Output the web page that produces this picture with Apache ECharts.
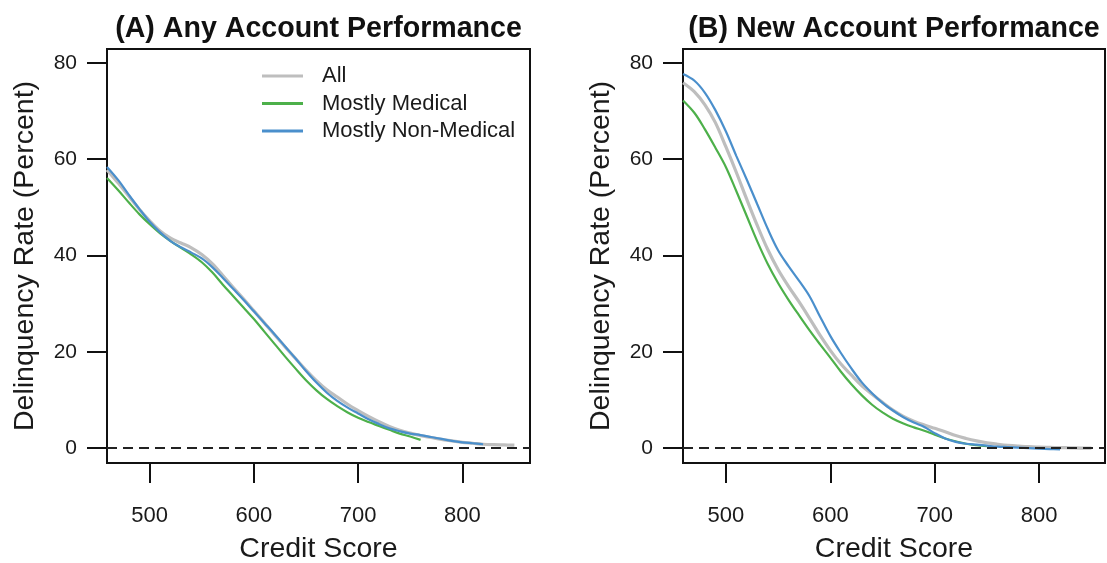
<!DOCTYPE html>
<html>
<head>
<meta charset="utf-8">
<script src="https://cdn.jsdelivr.net/npm/echarts@6/dist/echarts.min.js"></script>
<style>
html,body{margin:0;padding:0;background:#fff;}
#chart{width:1107px;height:563px;}
</style>
</head>
<body>
<div id="chart"></div>
<script>
// ---- data ----
const panelTitles = ['(A) Any Account Performance', '(B) New Account Performance'];
const seriesNames = ['All', 'Mostly Medical', 'Mostly Non-Medical'];
const xTicks = [500, 600, 700, 800];
const yTicks = [0, 20, 40, 60, 80];

const scores = [459,470,480,490,500,510,520,530,540,550,560,570,580,590,600,610,620,630,640,650,
                660,670,680,690,700,710,720,730,740,750,760,770,780,790,800,810,820,830,840,850];

// Panel A: any account performance
const allA = [57.8,55.0,52.3,49.6,47.2,45.1,43.6,42.6,41.6,40.2,38.3,35.9,33.4,31.0,28.5,26.0,23.5,21.0,18.6,16.2,
              14.0,12.1,10.6,9.1,7.8,6.6,5.5,4.5,3.7,3.1,2.6,2.2,1.8,1.5,1.2,1.0,0.8,0.7,0.65,0.6];
const medicalA = [56.1,53.5,51.0,48.6,46.5,44.6,43.0,41.6,40.2,38.6,36.5,34.0,31.6,29.2,26.8,24.2,21.6,19.0,16.5,14.1,
                  12.0,10.2,8.7,7.4,6.3,5.4,4.6,3.8,3.0,2.4,1.7];
const nonMedicalA = [58.4,55.6,52.6,49.7,47.0,44.8,43.0,41.7,40.6,39.4,37.6,35.4,33.1,30.8,28.4,26.0,23.6,21.1,18.6,16.0,
                     13.6,11.5,9.8,8.4,7.2,6.0,5.0,4.1,3.5,3.0,2.7,2.3,1.9,1.5,1.2,1.0,0.8];

// Panel B: new account performance
const allB = [75.9,74.0,71.3,67.6,62.6,57.3,51.7,46.3,41.3,37.1,33.6,30.4,27.0,23.5,20.3,17.5,15.2,13.0,11.2,9.5,
              7.9,6.6,5.6,4.8,4.1,3.4,2.6,2.0,1.5,1.1,0.8,0.55,0.4,0.3,0.2,0.15,0.1,0.05,0.0,0.0];
const medicalB = [72.2,69.6,66.2,62.4,58.4,53.4,48.2,43.0,38.3,34.3,30.8,27.6,24.5,21.6,18.8,15.9,13.3,11.0,9.0,7.4,
                  6.1,5.1,4.3,3.6,2.8,2.0,1.4,0.9,0.6,0.4];
const nonMedicalB = [77.7,76.3,73.8,70.2,65.8,60.7,55.8,50.7,45.6,41.1,37.8,34.8,31.6,27.4,23.3,19.8,16.6,13.7,11.4,9.4,
                     7.8,6.4,5.3,4.4,3.1,2.0,1.3,0.9,0.7,0.5,0.3,0.2,0.1,0.0,-0.1,-0.2,-0.3];

// ---- chart ----
const FONT = "'Liberation Sans', Arial, Helvetica, sans-serif";
const TXT = '#1a1a1a';
const colors = {'All': '#bebebe', 'Mostly Medical': '#4db04a', 'Mostly Non-Medical': '#4a8fcc'};
const widths = {'All': 3.2, 'Mostly Medical': 2.2, 'Mostly Non-Medical': 2.2};

function pairs(xs, ys) { return ys.map((y, i) => [xs[i], y]); }

const grids = [
  {left: 107, top: 49, width: 423, height: 414},
  {left: 683, top: 49, width: 422, height: 414}
];
const xMax = [865, 863];

const option = {
  animation: false,
  backgroundColor: '#fff',
  textStyle: {fontFamily: FONT},
  title: panelTitles.map((t, i) => ({
    text: t,
    left: grids[i].left + grids[i].width / 2 - 5,
    top: 10,
    textAlign: 'center',
    textStyle: {fontFamily: FONT, fontSize: 28.6, fontWeight: 'bold', color: '#111'}
  })),
  legend: {
    data: seriesNames.map(n => ({name: n, icon: 'rect', itemStyle: {color: colors[n]}})),
    orient: 'vertical',
    left: 262,
    top: 65,
    padding: 0,
    itemWidth: 41,
    itemHeight: 3,
    itemGap: 5.5,
    textStyle: {fontFamily: FONT, fontSize: 22, color: TXT, padding: [0, 0, 0, 14]}
  },
  grid: grids.map(g => Object.assign({
    show: true, borderColor: '#111', borderWidth: 2, backgroundColor: 'transparent',
    containLabel: false, outerBoundsMode: 'none'
  }, g)),
  xAxis: grids.map((g, i) => ({
    type: 'value', gridIndex: i, min: 459, max: xMax[i],
    name: 'Credit Score', nameLocation: 'middle', nameGap: 72,
    nameTextStyle: {fontFamily: FONT, fontSize: 28.5, color: TXT},
    axisLine: {show: false, onZero: false},
    axisTick: {show: true, inside: false, length: 20, customValues: xTicks, lineStyle: {color: '#111', width: 2}},
    axisLabel: {show: true, customValues: xTicks, margin: 42, fontFamily: FONT, fontSize: 22, color: TXT},
    splitLine: {show: false}
  })),
  yAxis: grids.map((g, i) => ({
    type: 'value', gridIndex: i, min: -3.1, max: 82.9,
    name: 'Delinquency Rate (Percent)', nameLocation: 'middle', nameGap: 67,
    nameTextStyle: {fontFamily: FONT, fontSize: 28.5, color: TXT},
    axisLine: {show: false, onZero: false},
    axisTick: {show: true, inside: false, length: 20, customValues: yTicks, lineStyle: {color: '#111', width: 2}},
    axisLabel: {show: true, customValues: yTicks, margin: 30, fontFamily: FONT, fontSize: 21, color: TXT},
    splitLine: {show: false}
  })),
  series: []
};

const panelData = [
  {'All': allA, 'Mostly Medical': medicalA, 'Mostly Non-Medical': nonMedicalA},
  {'All': allB, 'Mostly Medical': medicalB, 'Mostly Non-Medical': nonMedicalB}
];

panelData.forEach((pd, i) => {
  seriesNames.forEach((name, k) => {
    const s = {
      name: name,
      type: 'line',
      xAxisIndex: i,
      yAxisIndex: i,
      data: pairs(scores, pd[name]),
      smooth: 0.35,
      symbol: 'none',
      showSymbol: false,
      color: colors[name],
      lineStyle: {color: colors[name], width: widths[name]},
      z: 2 + k
    };
    if (name === 'All') {
      s.markLine = {
        silent: true,
        symbol: ['none', 'none'],
        label: {show: false},
        lineStyle: {color: '#222', type: [10, 6], width: 2},
        data: [{yAxis: 0}]
      };
    }
    option.series.push(s);
  });
});

const chart = echarts.init(document.getElementById('chart'), null, {renderer: 'canvas'});
chart.setOption(option);
</script>
</body>
</html>
